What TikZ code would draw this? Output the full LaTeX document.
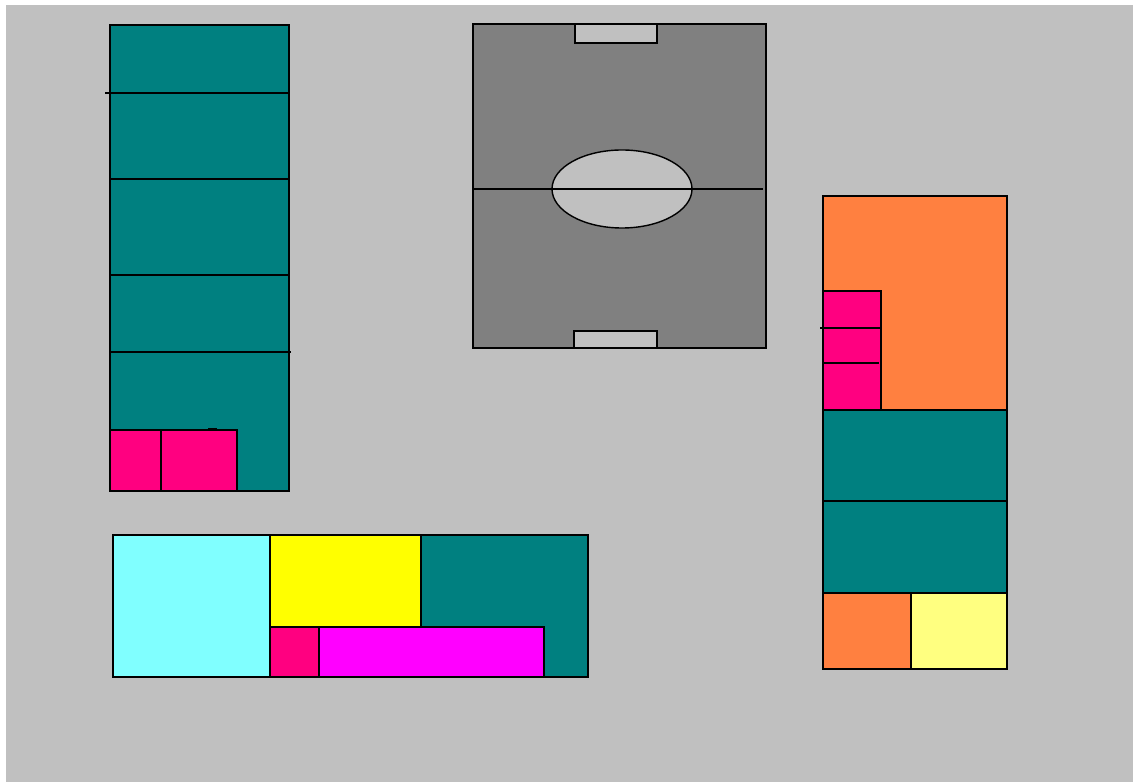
\documentclass[tikz,border=0pt]{standalone}
\usepackage{tikz}
\definecolor{canvas}{RGB}{192,192,192}
\definecolor{pitch}{RGB}{128,128,128}
\definecolor{court}{RGB}{0,128,128}
\definecolor{rose}{RGB}{255,0,128}
\definecolor{aqua}{RGB}{128,255,255}
\definecolor{lemon}{RGB}{255,255,0}
\definecolor{fuchsia}{RGB}{255,0,255}
\definecolor{tangerine}{RGB}{255,128,64}
\definecolor{cream}{RGB}{255,255,128}

\begin{document}
\begin{tikzpicture}[
    x=0.02cm, y=-0.02cm,
    zone/.style={draw=black, line width=0.8pt},
    split/.style={draw=black, line width=0.8pt},
    goalbox/.style={zone, fill=canvas},
]
\useasboundingbox (0,0) rectangle (1133,783);
\fill[white] (0,0) rectangle (1133,783);
\fill[canvas] (6,5) rectangle (1133,782);

% ==========================================================
% Left block: tall teal strip
% ==========================================================
\draw[zone, fill=court] (110,25) rectangle (289,491);
\draw[split] (105,93) -- (289,93);
\draw[split] (110,179) -- (289,179);
\draw[split] (110,275) -- (289,275);
\draw[split] (110,352) -- (291,352);
\draw[zone, fill=rose] (110,430) rectangle (161,491);
\draw[zone, fill=rose] (161,430) rectangle (237,491);
\draw[line width=1.6pt] (208,429) -- (217,429);

% ==========================================================
% Pitch
% ==========================================================
\draw[zone, fill=pitch] (473,24) rectangle (766,348);
\draw[goalbox] (575,24) rectangle (657,43);
\draw[goalbox] (574,331) rectangle (657,348);
\draw[zone, fill=canvas] (622,189) ellipse [x radius=70, y radius=39];
\draw[split] (473,189) -- (763,189);

% ==========================================================
% Right block
% ==========================================================
\draw[zone, fill=tangerine] (823,196) rectangle (1007,410);
\draw[zone, fill=rose] (823,291) rectangle (881,410);
\draw[split] (820,328) -- (881,328);
\draw[split] (823,363) -- (879,363);
\draw[zone, fill=court] (823,410) rectangle (1007,501);
\draw[zone, fill=court] (823,501) rectangle (1007,593);
\draw[zone, fill=tangerine] (823,593) rectangle (911,669);
\draw[zone, fill=cream] (911,593) rectangle (1007,669);

% ==========================================================
% Bottom block
% ==========================================================
\draw[zone, fill=court] (113,535) rectangle (588,677);
\draw[zone, fill=aqua] (113,535) rectangle (270,677);
\draw[zone, fill=lemon] (270,535) rectangle (421,627);
\draw[zone, fill=rose] (270,627) rectangle (319,677);
\draw[zone, fill=fuchsia] (319,627) rectangle (544,677);

\end{tikzpicture}
\end{document}
